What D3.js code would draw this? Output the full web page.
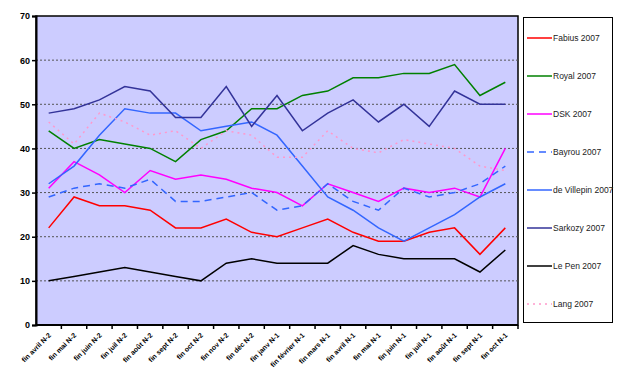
<!DOCTYPE html>
<html>
<head>
<meta charset="utf-8">
<script src="https://cdn.jsdelivr.net/npm/d3@7"></script>
<style>
  body { margin: 0; background: #fff; }
  svg { font-family: "Liberation Sans", Arial, sans-serif; }
</style>
</head>
<body>
<div id="chart"></div>
<script>
var months = ['fin avril N-2','fin mai N-2','fin juin N-2','fin juil N-2','fin août N-2','fin sept N-2','fin oct N-2','fin nov N-2','fin déc N-2',
              'fin janv N-1','fin février N-1','fin mars N-1','fin avril N-1','fin mai N-1','fin juin N-1','fin juil N-1','fin août N-1','fin sept N-1','fin oct N-1'];
var yTicks = [0, 10, 20, 30, 40, 50, 60, 70];

var fabius    = [22, 29, 27, 27, 26, 22, 22, 24, 21, 20, 22, 24, 21, 19, 19, 21, 22, 16, 22];
var royal     = [44, 40, 42, 41, 40, 37, 42, 44, 49, 49, 52, 53, 56, 56, 57, 57, 59, 52, 55];
var dsk       = [31, 37, 34, 30, 35, 33, 34, 33, 31, 30, 27, 32, 30, 28, 31, 30, 31, 29, 40];
var bayrou    = [29, 31, 32, 31, 33, 28, 28, 29, 30, 26, 27, 32, 28, 26, 31, 29, 30, 32, 36];
var villepin  = [32, 36, 43, 49, 48, 48, 44, 45, 46, 43, 36, 29, 26, 22, 19, 22, 25, 29, 32];
var sarkozy   = [48, 49, 51, 54, 53, 47, 47, 54, 45, 52, 44, 48, 51, 46, 50, 45, 53, 50, 50];
var lepen     = [10, 11, 12, 13, 12, 11, 10, 14, 15, 14, 14, 14, 18, 16, 15, 15, 15, 12, 17];
var lang      = [46, 41, 48, 46, 43, 44, 40, 44, 43, 38, 38, 44, 40, 39, 42, 41, 40, 36, 35];

var series = [
  {name: 'Fabius 2007',      values: fabius,   color: '#ff0000', dash: null},
  {name: 'Royal 2007',       values: royal,    color: '#008000', dash: null},
  {name: 'DSK 2007',         values: dsk,      color: '#ff00ff', dash: null},
  {name: 'Bayrou 2007',      values: bayrou,   color: '#3366ff', dash: '7,5'},
  {name: 'de Villepin 2007', values: villepin, color: '#3366ff', dash: null},
  {name: 'Sarkozy 2007',     values: sarkozy,  color: '#333399', dash: null},
  {name: 'Le Pen 2007',      values: lepen,    color: '#000000', dash: null},
  {name: 'Lang 2007',        values: lang,     color: '#ff99cc', dash: '2,4'}
];

var fullWidth = 619, fullHeight = 385;
var plot = {left: 36, top: 16, right: 518, bottom: 325};

var svg = d3.select('#chart').append('svg').attr('width', fullWidth).attr('height', fullHeight);

var xScale = d3.scaleBand().domain(months).range([plot.left, plot.right]);
var yScale = d3.scaleLinear().domain([0, 70]).range([plot.bottom, plot.top]);

// plot area
svg.append('rect')
   .attr('x', plot.left).attr('y', plot.top)
   .attr('width', plot.right - plot.left).attr('height', plot.bottom - plot.top)
   .style('fill', '#ccccff').style('stroke', '#000').style('stroke-width', 1.5);

// gridlines
svg.append('g').selectAll('line')
   .data(yTicks.filter(function(t){ return t > 0 && t < 70; }))
   .enter().append('line')
   .attr('x1', plot.left).attr('x2', plot.right)
   .attr('y1', function(d){ return yScale(d); })
   .attr('y2', function(d){ return yScale(d); })
   .style('stroke', '#555').style('stroke-width', 1).style('stroke-dasharray', '2,2');

// y axis
var yAxis = d3.axisLeft(yScale).tickValues(yTicks).tickSize(4).tickPadding(2);
var gy = svg.append('g').attr('transform', 'translate(' + plot.left + ',0)').call(yAxis);
gy.select('.domain').style('stroke', '#000').style('stroke-width', 2);
gy.selectAll('.tick line').style('stroke', '#000').style('stroke-width', 1.5);
gy.selectAll('text').style('font-size', '9px').style('font-weight', 'bold').style('fill', '#000')
  .style('font-family', '"Liberation Sans", Arial, sans-serif');

// x axis line + ticks at band boundaries
svg.append('line')
   .attr('x1', plot.left).attr('x2', plot.right)
   .attr('y1', plot.bottom).attr('y2', plot.bottom)
   .style('stroke', '#000').style('stroke-width', 2);
svg.append('g').selectAll('line')
   .data(months)
   .enter().append('line')
   .attr('x1', function(d){ return xScale(d) + xScale.bandwidth(); })
   .attr('x2', function(d){ return xScale(d) + xScale.bandwidth(); })
   .attr('y1', plot.bottom).attr('y2', plot.bottom + 4)
   .style('stroke', '#000').style('stroke-width', 1.5);

svg.append('g').selectAll('text')
   .data(months)
   .enter().append('text')
   .attr('transform', function(d){
     var cx = xScale(d) + xScale.bandwidth() / 2;
     return 'translate(' + (cx + 1) + ',' + (plot.bottom + 9) + ') rotate(-45)';
   })
   .attr('text-anchor', 'end')
   .attr('dy', '0.35em')
   .style('font-size', '7px').style('font-weight', 'bold').style('fill', '#000')
   .text(function(d){ return d; });

// lines
var line = d3.line()
  .x(function(d, i){ return xScale(months[i]) + xScale.bandwidth() / 2; })
  .y(function(d){ return yScale(d); });

svg.append('g').selectAll('path')
   .data(series)
   .enter().append('path')
   .attr('d', function(d){ return line(d.values); })
   .style('fill', 'none')
   .style('stroke', function(d){ return d.color; })
   .style('stroke-width', 1.5)
   .style('stroke-dasharray', function(d){ return d.dash; });

// legend
var legend = svg.append('g');
legend.append('rect')
   .attr('x', 523.5).attr('y', 17.5).attr('width', 89).attr('height', 305)
   .style('fill', '#fff').style('stroke', '#000').style('stroke-width', 1);

var entries = legend.selectAll('g.entry')
   .data(series)
   .enter().append('g')
   .attr('class', 'entry')
   .attr('transform', function(d, i){ return 'translate(527,' + (38 + i * 38) + ')'; });

entries.append('line')
   .attr('x1', 0).attr('x2', 25).attr('y1', 0).attr('y2', 0)
   .style('stroke', function(d){ return d.color; })
   .style('stroke-width', 1.5)
   .style('stroke-dasharray', function(d){ return d.dash; });

entries.append('text')
   .attr('x', 26).attr('y', 0).attr('dy', '0.35em')
   .style('font-size', '8.5px').style('fill', '#222')
   .text(function(d){ return d.name; });
</script>
</body>
</html>
